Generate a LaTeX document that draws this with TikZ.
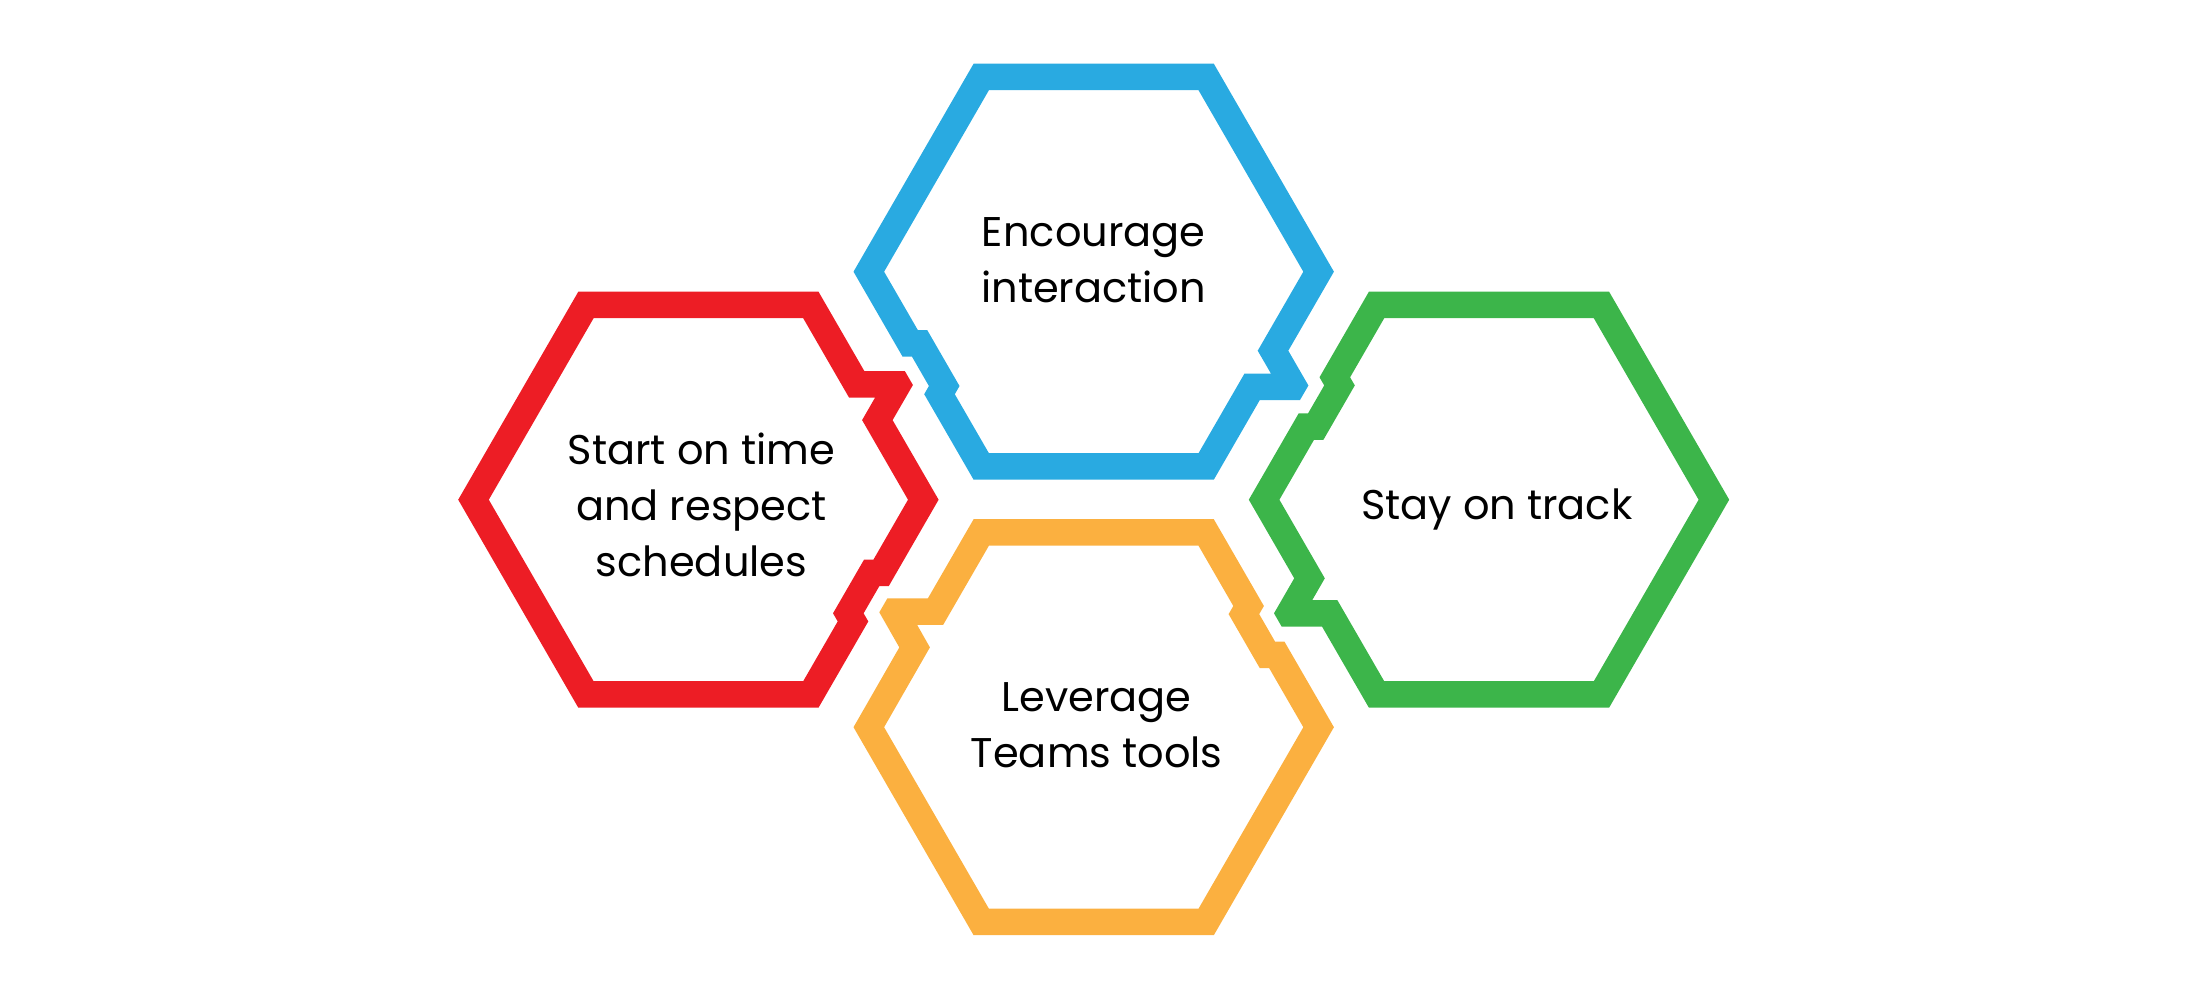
\documentclass[tikz,border=0pt]{standalone}
\usepackage{fontspec}
\setmainfont{Poppins}
\definecolor{hexred}{RGB}{237,29,37}
\definecolor{hexblue}{RGB}{41,170,225}
\definecolor{hexgreen}{RGB}{60,181,74}
\definecolor{hexyellow}{RGB}{251,176,64}
\tikzset{
    band/.style={even odd rule},
    hexlabel/.style={anchor=base,align=center,inner sep=0pt,font=\fontsize{11.8pt}{15.9pt}\selectfont}
}
\begin{document}
\begin{tikzpicture}[x=0.01cm,y=-0.01cm]
    \useasboundingbox (0,0) rectangle (2188,1000);
    %% Red hexagon, bump towards blue, notch for yellow
    \fill[band,hexred] (578.3,291.7) -- (818.5,291.7) -- (864.3,371) -- (904.8,371) -- (912.9,385) -- (892.6,420.1) -- (938.6,499.7) -- (888.8,586) -- (879.4,586) -- (863.6,613.3) -- (868.3,621.4) -- (818.5,707.7) -- (578.3,707.7) -- (458.2,499.7) -- cycle
        (593.6,318.2) -- (803.2,318.2) -- (849.0,397.5) -- (875.1,397.5) -- (862.1,420.1) -- (908,499.7) -- (873.5,559.5) -- (864.1,559.5) -- (833.0,613.3) -- (837.7,621.4) -- (803.2,681.2) -- (593.6,681.2) -- (488.8,499.7) -- cycle;
    %% Blue hexagon, bump towards green, notch for red
    \fill[band,hexblue] (973.6,63.7) -- (1213.8,63.7) -- (1333.9,271.7) -- (1288.3,350.7) -- (1308.4,385.5) -- (1300.0,400) -- (1259.8,400) -- (1213.8,479.7) -- (973.6,479.7) -- (924.2,394.2) -- (928.9,386) -- (912.0,356.7) -- (902.6,356.7) -- (853.5,271.7) -- cycle
        (988.9,90.2) -- (1198.5,90.2) -- (1303.3,271.7) -- (1257.7,350.7) -- (1270.9,373.5) -- (1244.5,373.5) -- (1198.5,453.2) -- (988.9,453.2) -- (954.8,394.2) -- (959.5,386) -- (927.3,330.2) -- (917.9,330.2) -- (884.1,271.7) -- cycle;
    %% Green hexagon, bump towards yellow, notch for blue
    \fill[band,hexgreen] (1368.9,291.7) -- (1609.1,291.7) -- (1729.2,499.7) -- (1609.1,707.7) -- (1368.9,707.7) -- (1322.1,626.7) -- (1281.7,626.7) -- (1274.0,613.3) -- (1294.2,578.3) -- (1248.8,499.7) -- (1298.7,413.3) -- (1308.1,413.3) -- (1324.2,385.4) -- (1319.5,377.3) -- cycle
        (1384.2,318.2) -- (1593.8,318.2) -- (1698.6,499.7) -- (1593.8,681.2) -- (1384.2,681.2) -- (1337.4,600.2) -- (1312.2,600.2) -- (1324.8,578.3) -- (1279.4,499.7) -- (1314.0,439.8) -- (1323.4,439.8) -- (1354.8,385.4) -- (1350.1,377.3) -- cycle;
    %% Yellow hexagon, bump towards red, notch for green
    \fill[band,hexyellow] (973.6,519.2) -- (1213.8,519.2) -- (1263.9,606) -- (1259.2,614.1) -- (1275.1,641.7) -- (1284.5,641.7) -- (1333.9,727.2) -- (1213.8,935.2) -- (973.6,935.2) -- (853.5,727.2) -- (899.3,647.4) -- (879.3,612.3) -- (887.4,598.3) -- (927.9,598.3) -- cycle
        (988.9,545.7) -- (1198.5,545.7) -- (1233.3,606) -- (1228.6,614.1) -- (1259.8,668.2) -- (1269.2,668.2) -- (1303.3,727.2) -- (1198.5,908.7) -- (988.9,908.7) -- (884.1,727.2) -- (929.9,647.4) -- (917.1,624.8) -- (943.2,624.8) -- cycle;
    %% labels (base = last line)
    \node[hexlabel] (start) at (701.5,576) {Start on time\\and respect\\schedules};
    \node[hexlabel] (encourage) at (1093.7,302.3) {Encourage\\interaction};
    \node[hexlabel] (track) at (1496.7,519.3) {Stay on track};
    \node[hexlabel] (leverage) at (1096.7,767.3) {Leverage\\Teams tools};
\end{tikzpicture}
\end{document}
